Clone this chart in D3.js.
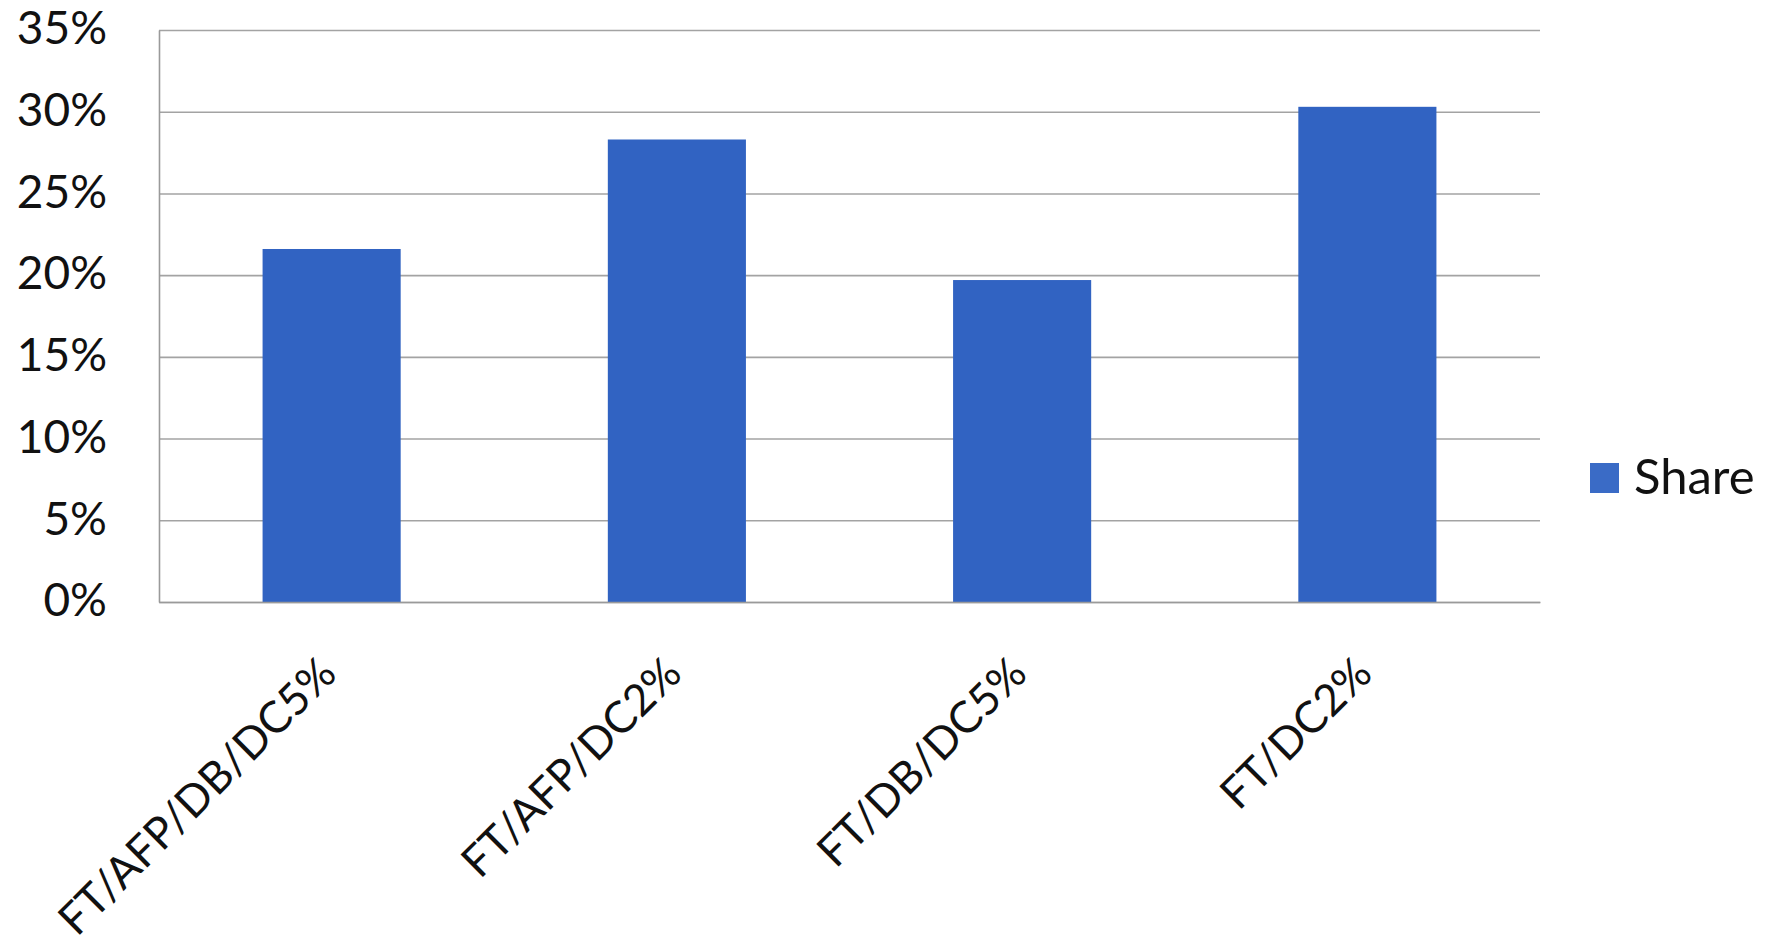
<!DOCTYPE html>
<html>
<head>
<meta charset="utf-8">
<script src="https://cdn.jsdelivr.net/npm/d3@7"></script>
<style>
  body { margin: 0; background: #fff; }
  text { font-family: Lato, "Open Sans", sans-serif; fill: #111; }
</style>
</head>
<body>
<div id="my_dataviz"></div>
<script>
var categories = ["FT/AFP/DB/DC5%", "FT/AFP/DC2%", "FT/DB/DC5%", "FT/DC2%"];
var shareValues = [0.216, 0.283, 0.197, 0.303];
var yTicks = [0, 0.05, 0.10, 0.15, 0.20, 0.25, 0.30, 0.35];
var seriesName = "Share";

graph();

function graph(){
    var margin = {top: 30, right: 233, bottom: 342, left: 159},
    width = 1773 - margin.left - margin.right,
    height = 944 - margin.top - margin.bottom;

    var svg = d3.select("#my_dataviz")
        .append("svg")
        .attr("width", 1773)
        .attr("height", 944)
        .append("g")
        .attr("transform", "translate(" + margin.left + "," + margin.top + ")");

    var data = categories.map(function(c, i) { return {cat: c, value: shareValues[i]}; });

    var y = d3.scaleLinear()
        .domain([0, 0.35])
        .range([height, 0]);

    var x = d3.scaleBand()
        .domain(categories)
        .range([0, width])
        .paddingInner(0.6)
        .paddingOuter(0.3);

    // gridlines
    svg.append("g")
        .attr("class", "grid")
        .call(d3.axisLeft(y).tickValues(yTicks).tickSize(-width).tickFormat(""))
        .call(function(g) { g.select(".domain").remove(); })
        .selectAll("line")
        .attr("stroke", "#a3a3a3")
        .attr("stroke-width", 1.6);

    // Y axis labels
    svg.append("g")
        .call(d3.axisLeft(y).tickValues(yTicks).tickSize(0).tickPadding(52).tickFormat(d3.format(".0%")))
        .call(function(g) {
            g.select(".domain").attr("stroke", "#9a9a9a").attr("stroke-width", 1.6);
        })
        .selectAll("text")
        .style("font-size", "46px")
        .attr("dy", "0.3em");

    //Data Rows
    svg.selectAll("myRect")
        .data(data)
        .enter()
        .append("rect")
        .attr("x", function(d) { return x(d.cat); })
        .attr("y", function(d) { return y(d.value); })
        .attr("width", x.bandwidth())
        .attr("height", function(d) { return height - y(d.value); })
        .attr("fill", "#3163c2");

    // X axis
    svg.append("g")
        .attr("transform", "translate(0," + height + ")")
        .call(d3.axisBottom(x).tickSize(0).tickSizeOuter(0).tickPadding(0))
        .call(function(g) {
            g.select(".domain").attr("stroke", "#9a9a9a").attr("stroke-width", 1.6);
        })
        .selectAll("text")
        .style("font-size", "44px")
        .style("text-anchor", "end")
        .attr("dy", 0)
        .attr("transform", "translate(7,74)rotate(-45)");

    // legend
    var lg = svg.append("g")
        .attr("transform", "translate(" + (width + 50) + "," + (y(0.35) + 433) + ")");
    lg.append("rect")
        .attr("width", 29)
        .attr("height", 30)
        .attr("fill", "#3a6bc6");
    lg.append("text")
        .attr("x", 44)
        .attr("y", 31)
        .style("font-size", "49px")
        .text(seriesName);
}
</script>
</body>
</html>
